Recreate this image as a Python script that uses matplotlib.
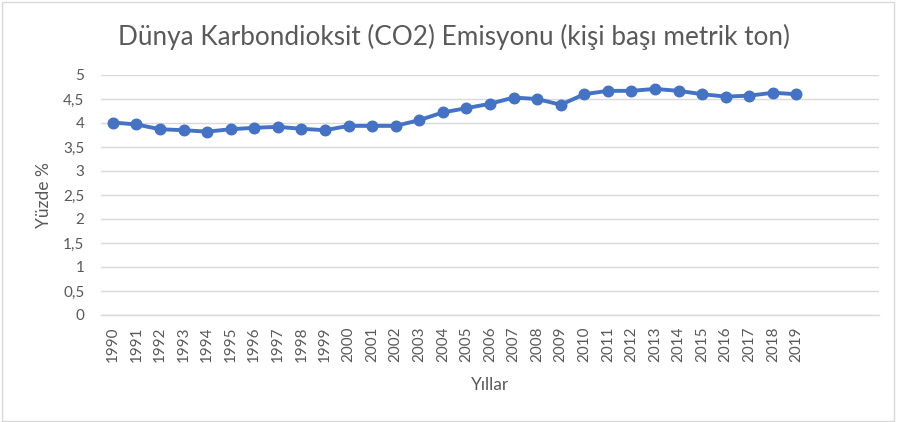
import matplotlib
matplotlib.use("Agg")
import matplotlib.pyplot as plt
from matplotlib.patches import Rectangle

# data
years = list(range(1990, 2020))
co2_per_capita = [4.01, 3.97, 3.87, 3.85, 3.82, 3.87, 3.90, 3.92, 3.88, 3.85,
                  3.94, 3.94, 3.94, 4.06, 4.22, 4.31, 4.40, 4.53, 4.50, 4.38,
                  4.60, 4.67, 4.67, 4.71, 4.67, 4.60, 4.55, 4.57, 4.63, 4.60]
y_ticks = [0, 0.5, 1, 1.5, 2, 2.5, 3, 3.5, 4, 4.5, 5]
n_slots = 33  # Excel axis leaves three empty categories after 2019

title = "Dünya Karbondioksit (CO2) Emisyonu (kişi başı metrik ton)"
x_title = "Yıllar"
y_title = "Yüzde %"

text_color = "#595959"
grid_color = "#D9D9D9"
line_color = "#4472C4"

plt.rcParams["font.family"] = ["Lato", "DejaVu Sans"]

W, H = 897, 422
fig = plt.figure(figsize=(W / 100, H / 100), dpi=100)
ax = fig.add_axes([101 / W, 1 - 315 / H, (879 - 101) / W, (315 - 75) / H])

xs = list(range(len(years)))
ax.plot(xs, co2_per_capita, color=line_color, lw=2.8, marker="o",
        markersize=7.6, zorder=3)

ax.set_xlim(-0.5, n_slots - 0.5)
ax.set_ylim(0, 5)
ax.set_yticks(y_ticks)
ax.set_yticklabels([f"{v:g}".replace(".", ",") for v in y_ticks])
ax.set_xticks(xs)
ax.set_xticklabels([str(y) for y in years], rotation=90)

ax.grid(axis="y", color=grid_color, lw=1.0)
ax.set_axisbelow(True)
for side in ["left", "right", "top"]:
    ax.spines[side].set_visible(False)
ax.spines["bottom"].set_color(grid_color)
ax.spines["bottom"].set_linewidth(1.0)
ax.tick_params(axis="both", length=0, colors=text_color, labelsize=11)
ax.tick_params(axis="y", pad=12)
ax.tick_params(axis="x", pad=8)

fig.text(454 / W, 1 - 37 / H, title, ha="center", va="center",
         fontsize=18.8, color=text_color)
fig.text(490 / W, 1 - 385 / H, x_title, ha="center", va="center",
         fontsize=12.5, color=text_color)
fig.text(44 / W, 1 - 195 / H, y_title, ha="center", va="center",
         rotation=90, fontsize=12.5, color=text_color)

fig.patches.append(Rectangle((2 / W, 1 / H), (W - 5) / W, (H - 3) / H,
                             transform=fig.transFigure, fill=False,
                             edgecolor=grid_color, lw=1.0))

fig.savefig("out.png", dpi=100)
